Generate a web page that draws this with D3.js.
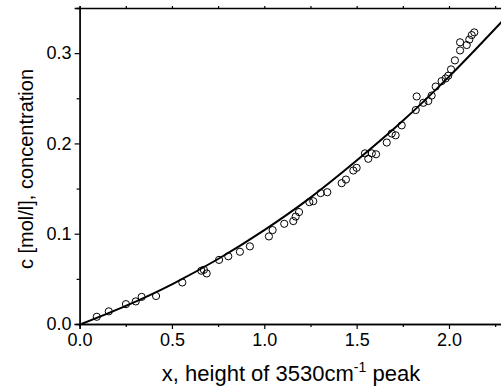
<!DOCTYPE html>
<html>
<head>
<meta charset="utf-8">
<script src="https://cdn.jsdelivr.net/npm/d3@7"></script>
<style>
  body { margin: 0; background: #fff; }
  text { font-family: "Liberation Sans", Arial, sans-serif; fill: #000; }
</style>
</head>
<body>
<svg id="chart"></svg>
<script>
// measured points (x = peak height, c = concentration)
var xValues = [0.093, 0.158, 0.251, 0.304, 0.336, 0.414, 0.556, 0.659, 0.673, 0.688, 0.755, 0.805, 0.868, 0.922,
    1.025, 1.045, 1.108, 1.157, 1.170, 1.188, 1.244, 1.265, 1.305, 1.341, 1.419, 1.442, 1.482, 1.500,
    1.545, 1.563, 1.582, 1.605, 1.663, 1.690, 1.711, 1.744, 1.820, 1.825, 1.861, 1.888, 1.906, 1.928,
    1.960, 1.982, 1.996, 2.011, 2.032, 2.060, 2.060, 2.096, 2.110, 2.123, 2.137];
var cValues = [0.008, 0.014, 0.022, 0.025, 0.030, 0.031, 0.046, 0.059, 0.060, 0.056, 0.071, 0.075, 0.080, 0.086,
    0.097, 0.104, 0.111, 0.114, 0.119, 0.124, 0.135, 0.136, 0.145, 0.146, 0.156, 0.160, 0.170, 0.173,
    0.189, 0.183, 0.189, 0.188, 0.201, 0.211, 0.209, 0.220, 0.237, 0.252, 0.245, 0.247, 0.253, 0.263,
    0.269, 0.272, 0.275, 0.282, 0.292, 0.303, 0.312, 0.309, 0.315, 0.320, 0.323];

// fitted curve
var fitX = [0.01, 0.25, 0.5, 0.75, 1.0, 1.25, 1.5, 1.75, 2.0, 2.3];
var fitC = [0.0, 0.020, 0.044, 0.072, 0.104, 0.140, 0.181, 0.225, 0.274, 0.338];

var xTicks = [0.0, 0.5, 1.0, 1.5, 2.0];
var yTicks = [0.0, 0.1, 0.2, 0.3];

var width = 501, height = 387;
var plotLeft = 79.6, plotTop = 8, plotBottom = 324;

var svg = d3.select("#chart")
    .attr("width", width)
    .attr("height", height);

var x = d3.scaleLinear().domain([0, 2.3]).range([plotLeft, 504.4]);
var y = d3.scaleLinear().domain([0, 0.35]).range([plotBottom, plotTop]);

var xMinor = d3.range(0.25, 2.3, 0.5);
var yMinor = d3.range(0.05, 0.35, 0.1);

// bottom axis
var gx = svg.append("g").attr("transform", "translate(0," + plotBottom + ")");
gx.call(d3.axisBottom(x).tickValues(xTicks).tickFormat(d3.format(".1f")).tickSize(5).tickPadding(4));
gx.append("g").call(d3.axisBottom(x).tickValues(xMinor).tickFormat("").tickSize(3));

// top axis
var gt = svg.append("g").attr("transform", "translate(0," + plotTop + ")");
gt.call(d3.axisTop(x).tickValues(xTicks.concat(xMinor)).tickFormat("").tickSize(2));

// left axis
var gy = svg.append("g").attr("transform", "translate(" + plotLeft + ",0)");
gy.call(d3.axisLeft(y).tickValues(yTicks).tickFormat(d3.format(".1f")).tickSize(5).tickPadding(3));
gy.append("g").call(d3.axisLeft(y).tickValues(yMinor).tickFormat("").tickSize(3));

svg.selectAll(".domain").attr("stroke", "#000").attr("stroke-width", 1.3);
svg.selectAll(".tick line").attr("stroke", "#000").attr("stroke-width", 1.2);
svg.selectAll(".tick text").style("font-size", "18px").style("font-family", "Liberation Sans, Arial, sans-serif");

// fit line
var fitData = fitX.map(function (d, i) { return { x: d, c: fitC[i] }; });
svg.append("path")
    .datum(fitData)
    .attr("fill", "none")
    .attr("stroke", "#000")
    .attr("stroke-width", 2)
    .attr("d", d3.line()
        .x(function (d) { return x(d.x); })
        .y(function (d) { return y(d.c); })
        .curve(d3.curveMonotoneX));

// points
var pts = xValues.map(function (d, i) { return { x: d, c: cValues[i] }; });
svg.selectAll("circle.pt")
    .data(pts)
    .enter().append("circle")
    .attr("class", "pt")
    .attr("cx", function (d) { return x(d.x); })
    .attr("cy", function (d) { return y(d.c); })
    .attr("r", 3.6)
    .attr("fill", "none")
    .attr("stroke", "#000")
    .attr("stroke-width", 1);

// axis titles
var xt = svg.append("text")
    .attr("x", 291)
    .attr("y", 381)
    .attr("text-anchor", "middle")
    .style("font-size", "22px");
xt.append("tspan").text("x, height of 3530cm");
xt.append("tspan").attr("dy", -9).style("font-size", "14px").text("-1");
xt.append("tspan").attr("dy", 9).text(" peak");

svg.append("text")
    .attr("transform", "translate(33,169) rotate(-90)")
    .attr("text-anchor", "middle")
    .style("font-size", "20px")
    .text("c [mol/l], concentration");
</script>
</body>
</html>
